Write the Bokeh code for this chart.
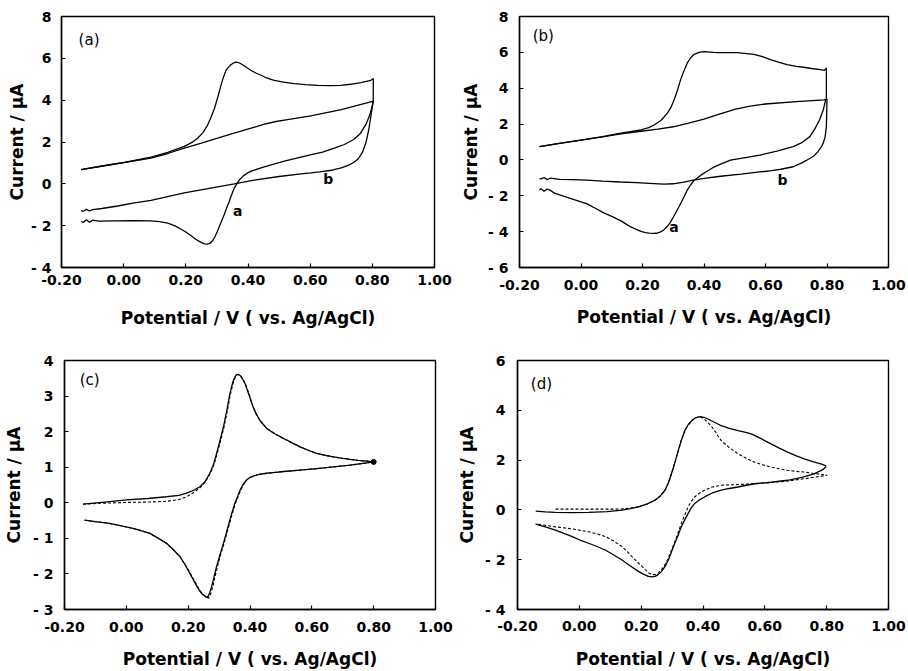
from bokeh.plotting import figure
from bokeh.models import Range1d, FixedTicker, Label
from bokeh.layouts import column, row
from bokeh.embed import file_html
from bokeh.resources import INLINE

# ---------------- data ----------------
x_ticks = [-0.2, 0.0, 0.2, 0.4, 0.6, 0.8, 1.0]
x_tick_labels = ["-0.20", "0.00", "0.20", "0.40", "0.60", "0.80", "1.00"]
x_label = "Potential / V ( vs. Ag/AgCl)"
y_label = "Current / μA"

ya_ticks = [-4, -2, 0, 2, 4, 6, 8]
yb_ticks = [-6, -4, -2, 0, 2, 4, 6, 8]
yc_ticks = [-3, -2, -1, 0, 1, 2, 3, 4]
yd_ticks = [-4, -2, 0, 2, 4, 6]

# panel (a), curve a
a_a_x = [-0.137, -0.073, 0.002, 0.088, 0.142, 0.195, 0.22, 0.238, 0.255, 0.270, 0.28, 0.292,
         0.303, 0.313, 0.321, 0.329, 0.337, 0.345, 0.353, 0.361, 0.369, 0.377, 0.39, 0.41,
         0.425, 0.442, 0.46, 0.484, 0.515, 0.549, 0.585, 0.624, 0.66, 0.699, 0.73, 0.763,
         0.795, 0.803,
         0.803, 0.792, 0.779, 0.76, 0.74, 0.71, 0.68, 0.64, 0.60, 0.56, 0.517, 0.48, 0.442,
         0.415, 0.399, 0.385, 0.372, 0.364, 0.356, 0.348, 0.340, 0.332, 0.324, 0.313, 0.302,
         0.294, 0.286, 0.278, 0.270, 0.26, 0.249, 0.233, 0.217, 0.20, 0.185, 0.165, 0.142,
         0.115, 0.088, 0.03, -0.03, -0.08, -0.10, -0.11, -0.12, -0.13, -0.137]
a_a_y = [0.68, 0.84, 1.03, 1.28, 1.50, 1.79, 1.98, 2.18, 2.45, 2.81, 3.15, 3.60,
         4.15, 4.71, 5.10, 5.42, 5.58, 5.69, 5.78, 5.82, 5.80, 5.74, 5.62, 5.42,
         5.30, 5.19, 5.06, 4.95, 4.86, 4.79, 4.74, 4.71, 4.70, 4.71, 4.76, 4.84,
         4.95, 5.03,
         3.92, 3.30, 2.83, 2.38, 2.12, 1.88, 1.72, 1.52, 1.38, 1.24, 1.08, 0.93, 0.76,
         0.63, 0.52, 0.38, 0.18, 0.0, -0.19, -0.50, -0.82, -1.13, -1.45, -1.85, -2.25,
         -2.52, -2.72, -2.84, -2.88, -2.87, -2.80, -2.66, -2.48, -2.30, -2.17, -2.01, -1.88,
         -1.81, -1.77, -1.76, -1.77, -1.78, -1.74, -1.84, -1.72, -1.85, -1.80]
# panel (a), curve b
a_b_x = [-0.137, -0.073, 0.002, 0.088, 0.142, 0.195, 0.25, 0.302, 0.35, 0.41, 0.45, 0.49,
         0.517, 0.602, 0.70, 0.795, 0.803,
         0.799, 0.794, 0.788, 0.779, 0.768, 0.755, 0.74, 0.72, 0.70, 0.67, 0.63, 0.602,
         0.57, 0.50, 0.42, 0.356, 0.28, 0.195, 0.088, 0.03, -0.019, -0.07, -0.10, -0.11,
         -0.12, -0.13, -0.137]
a_b_y = [0.68, 0.84, 1.02, 1.23, 1.45, 1.71, 1.95, 2.18, 2.40, 2.66, 2.84, 2.98,
         3.05, 3.25, 3.55, 3.92, 3.95,
         3.60, 3.10, 2.55, 1.95, 1.50, 1.20, 1.02, 0.87, 0.76, 0.65, 0.57, 0.52,
         0.48, 0.35, 0.18, 0.0, -0.2, -0.43, -0.79, -0.92, -1.06, -1.18, -1.23, -1.30,
         -1.22, -1.31, -1.28]

# panel (b), curve a
b_a_x = [-0.135, -0.07, 0.0, 0.07, 0.13, 0.195, 0.22, 0.238, 0.26, 0.281, 0.293, 0.303,
         0.314, 0.324, 0.335, 0.346, 0.357, 0.368, 0.384, 0.40, 0.43, 0.454, 0.508, 0.562,
         0.59, 0.616, 0.645, 0.67, 0.70, 0.724, 0.75, 0.778, 0.792, 0.798,
         0.798, 0.795, 0.788, 0.776, 0.76, 0.744, 0.72, 0.69, 0.64, 0.582, 0.53, 0.486,
         0.452, 0.43, 0.411, 0.39, 0.368, 0.356, 0.345, 0.335, 0.325, 0.312, 0.30, 0.29,
         0.28, 0.268, 0.257, 0.245, 0.235, 0.222, 0.21, 0.195, 0.178, 0.16, 0.13, 0.10,
         0.074, 0.045, 0.02, -0.01, -0.035, -0.06, -0.086, -0.10, -0.11, -0.12, -0.13,
         -0.135]
b_a_y = [0.74, 0.92, 1.11, 1.30, 1.49, 1.67, 1.80, 1.95, 2.20, 2.61, 2.95, 3.36,
         3.90, 4.48, 4.98, 5.42, 5.70, 5.89, 6.00, 6.04, 6.00, 5.98, 5.98, 5.89,
         5.76, 5.60, 5.44, 5.32, 5.22, 5.17, 5.10, 5.04, 5.00, 5.13,
         3.36, 3.30, 2.80, 2.24, 1.72, 1.30, 0.98, 0.74, 0.50, 0.27, 0.12, -0.01,
         -0.25, -0.42, -0.62, -0.85, -1.13, -1.40, -1.70, -2.05, -2.40, -2.82, -3.20, -3.50,
         -3.72, -3.92, -4.03, -4.09, -4.10, -4.08, -4.05, -3.98, -3.86, -3.72, -3.40, -3.15,
         -2.95, -2.68, -2.45, -2.28, -2.15, -2.00, -1.85, -1.70, -1.62, -1.75, -1.60,
         -1.69]
# panel (b), curve b
b_b_x = [-0.135, -0.07, 0.0, 0.07, 0.13, 0.195, 0.25, 0.30, 0.35, 0.40, 0.45, 0.50, 0.55,
         0.60, 0.70, 0.79, 0.80,
         0.799, 0.798, 0.794, 0.788, 0.782, 0.77, 0.757, 0.744, 0.72, 0.69, 0.65, 0.62,
         0.582, 0.52, 0.454, 0.40, 0.365, 0.33, 0.30, 0.27, 0.238, 0.18, 0.128, 0.07, 0.019,
         -0.03, -0.07, -0.10, -0.11, -0.12, -0.13, -0.135]
b_b_y = [0.74, 0.92, 1.10, 1.28, 1.45, 1.60, 1.72, 1.85, 2.05, 2.28, 2.55, 2.82, 3.0,
         3.12, 3.25, 3.35, 3.40,
         2.60, 1.86, 1.30, 0.95, 0.74, 0.45, 0.22, 0.08, -0.15, -0.38, -0.52, -0.60,
         -0.67, -0.79, -0.91, -1.03, -1.13, -1.25, -1.33, -1.35, -1.32, -1.27, -1.23, -1.18,
         -1.13, -1.10, -1.08, -1.02, -1.10, -0.98, -1.06, -1.04]

# panel (c), measured (solid) and simulated (dashed)
c_s_x = [-0.14, -0.07, 0.0, 0.07, 0.13, 0.17, 0.195, 0.22, 0.238, 0.255, 0.27, 0.282,
         0.292, 0.303, 0.314, 0.325, 0.335, 0.341, 0.346, 0.352, 0.357, 0.362, 0.368, 0.376,
         0.384, 0.396, 0.41, 0.42, 0.432, 0.443, 0.454, 0.48, 0.508, 0.535, 0.562, 0.59,
         0.616, 0.645, 0.67, 0.70, 0.724, 0.75, 0.778, 0.80,
         0.778, 0.724, 0.67, 0.616, 0.562, 0.51, 0.475, 0.454, 0.43, 0.41, 0.398, 0.389,
         0.378, 0.368, 0.36, 0.351, 0.343, 0.335, 0.325, 0.314, 0.303, 0.292, 0.284, 0.276,
         0.27, 0.265, 0.26, 0.254, 0.246, 0.238, 0.222, 0.205, 0.19, 0.173, 0.15, 0.13,
         0.10, 0.076, 0.05, 0.022, -0.02, -0.054, -0.10, -0.135]
c_s_y = [-0.04, 0.02, 0.08, 0.12, 0.17, 0.21, 0.27, 0.36, 0.45, 0.60, 0.83, 1.08,
         1.39, 1.75, 2.13, 2.60, 3.07, 3.28, 3.44, 3.55, 3.61, 3.61, 3.58, 3.48,
         3.35, 3.05, 2.69, 2.50, 2.32, 2.20, 2.09, 1.94, 1.81, 1.69, 1.57, 1.47,
         1.39, 1.33, 1.29, 1.25, 1.22, 1.19, 1.17, 1.15,
         1.12, 1.06, 1.01, 0.96, 0.92, 0.88, 0.85, 0.83, 0.80, 0.75, 0.70, 0.64,
         0.52, 0.36, 0.18, -0.01, -0.24, -0.48, -0.80, -1.14, -1.46, -1.79, -2.07, -2.35,
         -2.52, -2.63, -2.66, -2.63, -2.57, -2.49, -2.25, -1.98, -1.74, -1.51, -1.30, -1.14,
         -0.98, -0.86, -0.79, -0.72, -0.64, -0.58, -0.53, -0.49]
c_d_x = [-0.14, -0.07, 0.0, 0.07, 0.13, 0.17, 0.195, 0.22, 0.238, 0.255, 0.272, 0.284,
         0.294, 0.305, 0.316, 0.327, 0.337, 0.343, 0.348, 0.354, 0.359, 0.364, 0.370, 0.378,
         0.386, 0.398, 0.41, 0.42, 0.432, 0.443, 0.454, 0.48, 0.508, 0.535, 0.562, 0.59,
         0.616, 0.645, 0.67, 0.70, 0.724, 0.75, 0.778, 0.80,
         0.778, 0.724, 0.67, 0.616, 0.562, 0.51, 0.475, 0.454, 0.43, 0.41, 0.398, 0.389,
         0.38, 0.37, 0.362, 0.353, 0.345, 0.337, 0.327, 0.316, 0.305, 0.295, 0.287, 0.28,
         0.272, 0.266, 0.26, 0.25, 0.24, 0.224, 0.207, 0.19, 0.173, 0.15, 0.13,
         0.10, 0.076, 0.05, 0.022, -0.02, -0.054, -0.10, -0.135]
c_d_y = [-0.04, -0.01, 0.01, 0.02, 0.04, 0.09, 0.17, 0.30, 0.42, 0.58, 0.83, 1.08,
         1.39, 1.75, 2.13, 2.60, 3.07, 3.28, 3.44, 3.55, 3.60, 3.60, 3.57, 3.46,
         3.33, 3.03, 2.69, 2.50, 2.32, 2.20, 2.09, 1.94, 1.81, 1.69, 1.57, 1.47,
         1.39, 1.33, 1.29, 1.25, 1.22, 1.19, 1.17, 1.15,
         1.12, 1.06, 1.01, 0.96, 0.92, 0.88, 0.85, 0.83, 0.80, 0.75, 0.70, 0.64,
         0.52, 0.36, 0.18, -0.01, -0.24, -0.48, -0.80, -1.14, -1.46, -1.79, -2.07, -2.35,
         -2.58, -2.68, -2.66, -2.58, -2.49, -2.25, -1.98, -1.74, -1.51, -1.30, -1.14,
         -0.98, -0.86, -0.79, -0.72, -0.64, -0.58, -0.53, -0.49]
c_vertex_x = [0.80]
c_vertex_y = [1.15]

# panel (d), measured (solid) and simulated (dashed)
d_s_x = [-0.141, -0.11, -0.077, -0.02, 0.03, 0.09, 0.138, 0.165, 0.191, 0.22, 0.245, 0.262,
         0.277, 0.288, 0.298, 0.309, 0.32, 0.33, 0.341, 0.352, 0.363, 0.376, 0.39, 0.403,
         0.416, 0.437, 0.459, 0.485, 0.513, 0.535, 0.556, 0.585, 0.62, 0.645, 0.674, 0.70,
         0.727, 0.755, 0.781, 0.797,
         0.797, 0.79, 0.781, 0.759, 0.72, 0.674, 0.62, 0.566, 0.54, 0.513, 0.485, 0.459,
         0.43, 0.405, 0.388, 0.373, 0.362, 0.352, 0.341, 0.33, 0.32, 0.309, 0.298, 0.288,
         0.277, 0.266, 0.255, 0.245, 0.234, 0.223, 0.207, 0.191, 0.165, 0.138, 0.11, 0.084,
         0.057, 0.03, 0.0, -0.023, -0.05, -0.077, -0.11, -0.141]
d_s_y = [-0.05, -0.08, -0.10, -0.11, -0.10, -0.07, -0.01, 0.05, 0.12, 0.24, 0.39, 0.56,
         0.79, 1.08, 1.45, 1.90, 2.38, 2.80, 3.18, 3.42, 3.58, 3.70, 3.75, 3.72,
         3.65, 3.52, 3.38, 3.27, 3.18, 3.12, 3.05, 2.88, 2.65, 2.49, 2.32, 2.18,
         2.05, 1.94, 1.85, 1.78,
         1.72, 1.64, 1.58, 1.45, 1.31, 1.19, 1.11, 1.05, 0.99, 0.92, 0.86, 0.79,
         0.68, 0.52, 0.40, 0.26, 0.08, -0.14, -0.40, -0.68, -1.00, -1.34, -1.68, -2.01,
         -2.28, -2.47, -2.60, -2.67, -2.69, -2.67, -2.58, -2.47, -2.25, -2.01, -1.80, -1.61,
         -1.47, -1.34, -1.20, -1.07, -0.94, -0.81, -0.68, -0.57]
d_d_x = [-0.077, 0.03, 0.11, 0.138, 0.165, 0.191, 0.22, 0.245, 0.262, 0.277, 0.288, 0.298,
         0.309, 0.32, 0.33, 0.341, 0.352, 0.363, 0.376, 0.39, 0.403, 0.416, 0.427, 0.438,
         0.448, 0.459, 0.485, 0.513, 0.54, 0.566, 0.593, 0.62, 0.647, 0.674, 0.70, 0.727,
         0.755, 0.781, 0.802,
         0.76, 0.727, 0.674, 0.62, 0.566, 0.513, 0.459, 0.43, 0.405, 0.388, 0.373, 0.362,
         0.352, 0.341, 0.33, 0.32, 0.309, 0.298, 0.288, 0.277, 0.266, 0.255, 0.245, 0.234,
         0.223, 0.213, 0.197, 0.18, 0.16, 0.138, 0.11, 0.084, 0.057, 0.03, -0.02, -0.077,
         -0.11, -0.141]
d_d_y = [0.03, 0.03, 0.03, 0.04, 0.07, 0.12, 0.24, 0.39, 0.56, 0.79, 1.08, 1.45,
         1.90, 2.38, 2.80, 3.18, 3.42, 3.58, 3.70, 3.75, 3.66, 3.51, 3.36, 3.18,
         2.98, 2.78, 2.50, 2.25, 2.07, 1.92, 1.81, 1.72, 1.65, 1.59, 1.55, 1.52,
         1.47, 1.43, 1.39,
         1.31, 1.25, 1.16, 1.10, 1.05, 1.02, 0.99, 0.92, 0.79, 0.67, 0.52, 0.34,
         0.12, -0.20, -0.54, -0.90, -1.27, -1.62, -1.94, -2.20, -2.40, -2.53, -2.60, -2.60,
         -2.52, -2.40, -2.20, -2.00, -1.74, -1.47, -1.24, -1.07, -0.96, -0.88, -0.77, -0.68,
         -0.62, -0.57]

# ---------------- styling helpers ----------------
FONT = "DejaVu Sans"


def make_fig(width, height, bl, br, bt, bb, yr, yticks,
             x_std, x_lab_std, y_std, y_lab_std):
    p = figure(width=width, height=height, output_backend="svg", toolbar_location=None,
               x_range=Range1d(-0.2, 1.0), y_range=Range1d(*yr),
               min_border_left=bl, min_border_right=br, min_border_top=bt,
               min_border_bottom=bb, background_fill_color="white",
               border_fill_color="white")
    p.grid.visible = False
    p.outline_line_color = "black"
    p.outline_line_width = 1.4
    p.xaxis.ticker = FixedTicker(ticks=x_ticks)
    p.xaxis.major_label_overrides = {t: s for t, s in zip(x_ticks, x_tick_labels)}
    p.yaxis.ticker = FixedTicker(ticks=yticks)
    p.yaxis.major_label_overrides = {t: str(t).replace("-", "- ") for t in yticks}
    for ax in (p.xaxis[0], p.yaxis[0]):
        ax.axis_line_color = "black"
        ax.axis_line_width = 1.4
        ax.major_tick_in = 4
        ax.major_tick_out = 0
        ax.major_tick_line_width = 1.2
        ax.minor_tick_line_color = None
        ax.major_label_text_font = FONT
        ax.major_label_text_font_style = "bold"
        ax.major_label_text_font_size = "14px"
        ax.major_label_text_color = "black"
        ax.axis_label_text_font = FONT
        ax.axis_label_text_font_style = "bold"
        ax.axis_label_text_font_size = "17px"
        ax.axis_label_text_color = "black"
    p.xaxis.axis_label = x_label
    p.yaxis.axis_label = y_label
    p.xaxis.major_label_standoff = x_std
    p.xaxis.axis_label_standoff = x_lab_std
    p.yaxis.major_label_standoff = y_std
    p.yaxis.axis_label_standoff = y_lab_std
    return p


def panel_label(p, x, y, text):
    p.add_layout(Label(x=x, y=y, text=text, text_font=FONT,
                       text_font_size="15px", text_color="black"))


def curve_label(p, x, y, text):
    p.add_layout(Label(x=x, y=y, text=text, text_font=FONT,
                       text_font_style="bold", text_font_size="14px",
                       text_color="black", text_align="center",
                       text_baseline="middle"))


LW = 1.3

# (a)
pa = make_fig(454, 335, 61, 20, 14, 68, (-4, 8), ya_ticks, 7, 20, 10, 1)
pa.line(a_a_x, a_a_y, line_color="black", line_width=LW)
pa.line(a_b_x, a_b_y, line_color="black", line_width=LW)
panel_label(pa, -0.145, 6.45, "(a)")
curve_label(pa, 0.658, 0.22, "b")
curve_label(pa, 0.367, -1.30, "a")

# (b)
pb = make_fig(454, 335, 65, 20, 16, 68, (-6, 8), yb_ticks, 12, 14, 11, 4)
pb.line(b_a_x, b_a_y, line_color="black", line_width=LW)
pb.line(b_b_x, b_b_y, line_color="black", line_width=LW)
panel_label(pb, -0.157, 6.41, "(b)")
curve_label(pb, 0.655, -1.10, "b")
curve_label(pb, 0.302, -3.75, "a")

# (c)
pc = make_fig(454, 336, 64, 19, 25, 60, (-3, 4), yc_ticks, 12, 14, 11, 6)
pc.line(c_d_x, c_d_y, line_color="black", line_width=1.1, line_dash="3 2")
pc.line(c_s_x, c_s_y, line_color="black", line_width=LW)
pc.scatter(c_vertex_x, c_vertex_y, size=5, color="black")
panel_label(pc, -0.151, 3.21, "(c)")

# (d)
pd_ = make_fig(454, 336, 62, 20, 22, 62, (-4, 6), yd_ticks, 11, 15, 12, 5)
pd_.line(d_d_x, d_d_y, line_color="black", line_width=1.1, line_dash="3 2")
pd_.line(d_s_x, d_s_y, line_color="black", line_width=LW)
panel_label(pd_, -0.157, 4.71, "(d)")

layout = column(row(pa, pb), row(pc, pd_))

with open("out.html", "w") as f:
    f.write(file_html(layout, INLINE))
